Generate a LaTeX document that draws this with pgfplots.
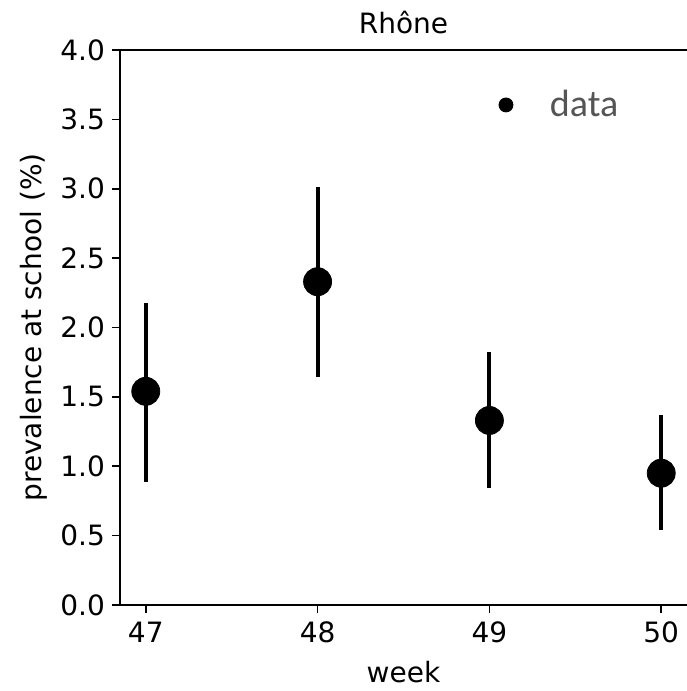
\documentclass[border=0pt]{standalone}
\usepackage{fontspec}
\setmainfont{DejaVu Sans}
\newfontfamily\carlito{Carlito}
\usepackage{pgfplots}
\pgfplotsset{compat=1.18}
\definecolor{legtext}{HTML}{555555}
\begin{document}
\begin{tikzpicture}
\begin{axis}[
  name=ax,
  scale only axis,
  width=283.5pt, height=277.5pt,
  xmin=46.85, xmax=50.15,
  ymin=0, ymax=4,
  axis x line*=box,
  axis y line*=left,
  xtick pos=bottom,
  xtick={47,48,49,50},
  ytick={0,0.5,...,4.0},
  yticklabel style={/pgf/number format/.cd,fixed,fixed zerofill,precision=1},
  /pgf/number format/assume math mode=true,
  tick align=outside,
  major tick length=4pt,
  every tick/.style={black, line width=0.8pt},
  axis line style={line width=0.9pt},
  tick label style={font=\fontsize{14}{16}\selectfont},
  xticklabel style={yshift=-1pt},
  label style={font=\fontsize{14}{16}\selectfont},
  title style={font=\fontsize{14}{16}\selectfont, yshift=-1.5pt},
  title={Rhône},
  xlabel={week},
  ylabel={prevalence at school (\%)},
  xlabel style={yshift=-2pt},
  ylabel style={yshift=-0.5pt},
  legend style={at={(rel axis cs:0.667,0.901)}, anchor=west, draw=none, fill=none,
    inner sep=0pt, font=\carlito\fontsize{19}{21}\selectfont\color{legtext},
    /tikz/every even column/.append style={column sep=0pt}},
  legend image code/.code={\fill[black] (0pt,0pt) circle (3.5pt); \path[draw=none] (-3.5pt,0) -- (20pt,0);},
]
\addplot[black, only marks, mark=*, mark size=7pt,
  error bars/.cd, y dir=both, y explicit, error mark=none,
  error bar style={line width=2pt, black}]
  coordinates {
  (47,1.54) += (0,0.64) -= (0,0.65)
  (48,2.33) += (0,0.68) -= (0,0.69)
  (49,1.33) += (0,0.49) -= (0,0.49)
  (50,0.95) += (0,0.42) -= (0,0.41)
  };
\addlegendentry{data}
\end{axis}
\pgfresetboundingbox
\path ([shift={(-60pt,-43pt)}]ax.south west) rectangle ([shift={(0pt,25pt)}]ax.north east);
\end{tikzpicture}
\end{document}
